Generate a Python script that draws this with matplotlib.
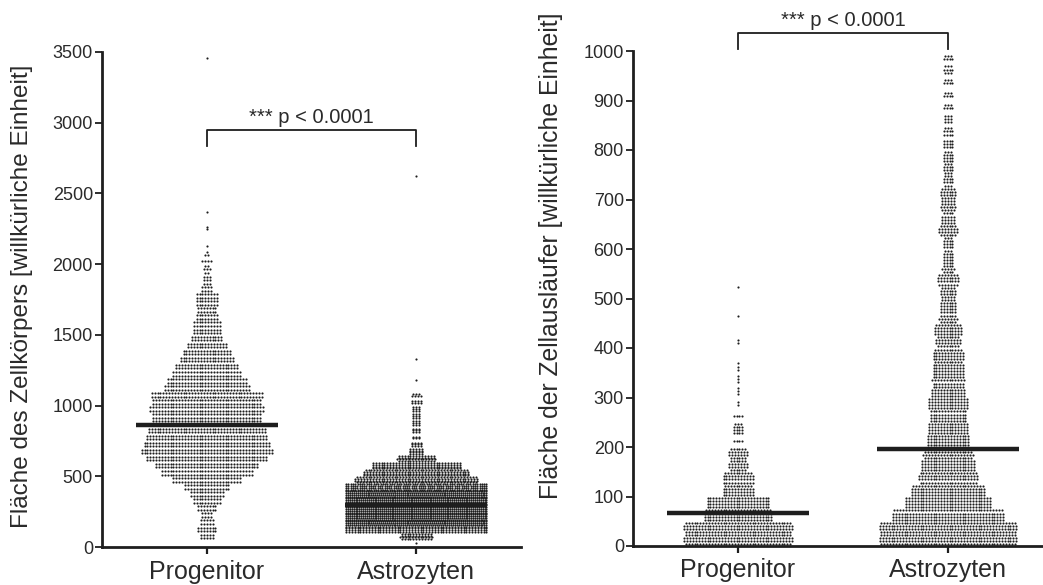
import math
import numpy as np
import matplotlib
matplotlib.use("Agg")
import matplotlib.pyplot as plt

plt.rcParams['font.family'] = ['Liberation Sans', 'DejaVu Sans']

# ---------------- data ----------------
categories = ["Progenitor", "Astrozyten"]

# Left panel: area of the cell body, dots counted per 50-unit bin (starting at 0)
soma_bin_width = 50
soma_prog_counts = [0, 10, 14, 10, 8, 14, 20, 24, 32, 48,
                    64, 72, 84, 92, 88, 84, 82, 76, 76, 80,
                    76, 78, 60, 56, 48, 44, 38, 34, 28, 22,
                    20, 20, 16, 14, 16, 16, 8, 6, 5, 5,
                    4, 3, 1]
soma_prog_single = [3460, 2370, 2260, 2250]
soma_astro_counts = [1, 45, 200, 290, 300, 300, 300, 290, 250, 170,
                     147, 124, 53, 20, 12, 6, 9, 9, 9, 9, 8, 7]
soma_astro_single = [2620, 1330, 1180]
soma_means = [865, 300]
soma_ticks = [0, 500, 1000, 1500, 2000, 2500, 3000, 3500]

# Right panel: area of the processes, dots counted per 25-unit bin (starting at 0)
proc_bin_width = 25
proc_prog_counts = [150, 150, 95, 88, 43, 43, 26, 26, 4, 15, 4, 2, 3, 3, 3, 0, 2]
proc_prog_single = [465, 523]
proc_astro_counts = [190, 190, 155, 120, 103, 82, 76, 69, 60, 56,
                     52, 56, 47, 45, 43, 43, 34, 39, 25, 23,
                     22, 30, 17, 15, 15, 26, 19, 21, 22, 14,
                     14, 15, 12, 11, 9, 7, 7, 7, 10, 7]
proc_astro_single = []
proc_means = [67, 196]
proc_ticks = [0, 100, 200, 300, 400, 500, 600, 700, 800, 900, 1000]

sig_text = "*** p < 0.0001"
ylabel_left = "Fläche des Zellkörpers [willkürliche Einheit]"
ylabel_right = "Fläche der Zellausläufer [willkürliche Einheit]"

# ---------------- style ----------------
INK = '#1e1e1e'
TXT = '#2a2a2a'
DOT_DX = 2.9 / 210    # horizontal dot pitch in x-axis units (210 px per category step)
MAX_HALF = 0.335      # maximum half width of a swarm row
DOT_S = 2.4


def draw_swarm(ax, xc, bin_w, counts, n_sub, singles):
    xs, ys = [], []
    pitch = bin_w / n_sub
    for i, c in enumerate(counts):
        if c <= 0:
            continue
        mid = (i + 0.5) * bin_w
        if c <= 3:
            rows = min(n_sub, c)
        else:
            rows = min(n_sub, math.ceil(c / 4))
        base, rem = divmod(c, rows)
        per = [base] * rows
        order = sorted(range(rows), key=lambda k: abs(k - (rows - 1) / 2))
        for k in order[:rem]:
            per[k] += 1
        for k, n in enumerate(per):
            y = mid + (k - (rows - 1) / 2) * pitch
            step = DOT_DX if (n - 1) * DOT_DX <= 2 * MAX_HALF else 2 * MAX_HALF / (n - 1)
            offs = (np.arange(n) - (n - 1) / 2) * step
            xs.extend(xc + offs)
            ys.extend([y] * n)
    for v in singles:
        xs.append(xc)
        ys.append(v)
    ax.scatter(xs, ys, s=DOT_S, c=INK, linewidths=0, zorder=2)


def style_axes(ax, ticks, xlim):
    ax.set_xlim(*xlim)
    ax.set_ylim(ticks[0], ticks[-1])
    ax.set_yticks(ticks)
    ax.set_xticks([0, 1])
    ax.set_xticklabels(categories)
    for s in ['top', 'right']:
        ax.spines[s].set_visible(False)
    for s in ['left', 'bottom']:
        ax.spines[s].set_linewidth(2.0)
        ax.spines[s].set_color(INK)
    ax.tick_params(axis='y', length=5, width=1.3, pad=1.5, labelsize=13,
                   colors=INK, labelcolor=TXT)
    ax.tick_params(axis='x', length=5, width=1.6, pad=4, labelsize=18,
                   colors=INK, labelcolor=TXT)


fig = plt.figure(figsize=(10.43, 5.85), dpi=100)

# ---- left panel ----
axL = fig.add_axes([102 / 1043, 38 / 585, 419 / 1043, 495 / 585])
draw_swarm(axL, 0, soma_bin_width, soma_prog_counts, 2, soma_prog_single)
draw_swarm(axL, 1, soma_bin_width, soma_astro_counts, 4, soma_astro_single)
for x, m in zip([0, 1], soma_means):
    axL.hlines(m, x - 0.34, x + 0.34, lw=3.2, color=INK, zorder=3)
style_axes(axL, soma_ticks, (-0.5, 1.5))
axL.set_ylabel(ylabel_left, fontsize=17.5, color=TXT)
axL.yaxis.set_label_coords(-0.165, 0.507)
axL.plot([0, 0, 1, 1], [2836, 2950, 2950, 2836], color=INK, lw=1.3, clip_on=False)
axL.text(0.5, 3000, sig_text, ha='center', va='baseline', fontsize=14.5, color=TXT)

# ---- right panel ----
axR = fig.add_axes([633 / 1043, 39 / 585, 410 / 1043, 495 / 585])
draw_swarm(axR, 0, proc_bin_width, proc_prog_counts, 4, proc_prog_single)
draw_swarm(axR, 1, proc_bin_width, proc_astro_counts, 4, proc_astro_single)
for x, m in zip([0, 1], proc_means):
    axR.hlines(m, x - 0.34, x + 0.34, lw=3.2, color=INK, zorder=3)
style_axes(axR, proc_ticks, (-0.5, 1.452))
axR.set_ylabel(ylabel_right, fontsize=17.8, color=TXT)
axR.yaxis.set_label_coords(-0.171, 0.586)
axR.plot([0, 0, 1, 1], [1004, 1037, 1037, 1004], color=INK, lw=1.3, clip_on=False)
axR.text(0.5, 1050, sig_text, ha='center', va='baseline', fontsize=14.5, color=TXT,
         clip_on=False)

fig.savefig("out.png", dpi=100)
